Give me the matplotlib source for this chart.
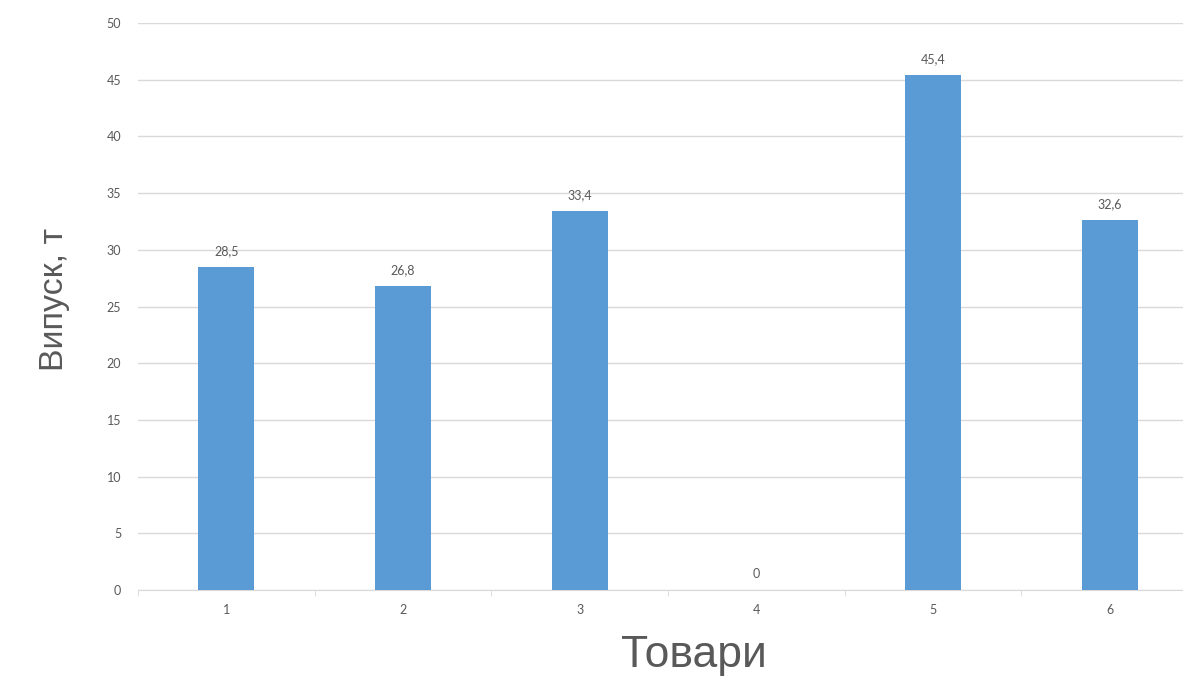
import matplotlib
matplotlib.use("Agg")
import matplotlib.pyplot as plt
import numpy as np

categories = ["1", "2", "3", "4", "5", "6"]
values = [28.5, 26.8, 33.4, 0, 45.4, 32.6]
value_labels = ["28,5", "26,8", "33,4", "0", "45,4", "32,6"]
y_ticks = [0, 5, 10, 15, 20, 25, 30, 35, 40, 45, 50]

bar_color = "#5B9BD5"
text_gray = "#595959"
grid_gray = "#D9D9D9"

fig = plt.figure(figsize=(11.83, 6.77), dpi=100)
ax = fig.add_axes([138 / 1183, 87 / 677, 1060 / 1183, 567 / 677])

x = np.arange(1, len(categories) + 1)
ax.bar(x, values, width=0.317, color=bar_color, zorder=3)

for xi, v, lab in zip(x, values, value_labels):
    ax.annotate(lab, (xi, v), xytext=(0, 7), textcoords="offset points",
                ha="center", va="bottom", fontsize=9, color=text_gray,
                family="Lato", zorder=4)

ax.set_xlim(0.5, len(categories) + 0.5)
ax.set_ylim(0, 50)
ax.set_yticks(y_ticks)
ax.set_yticklabels([str(t) for t in y_ticks])
ax.set_xticks(x)
ax.set_xticklabels(categories)
ax.set_xticks(np.arange(0.5, len(categories) + 1), minor=True)
ax.tick_params(axis="x", which="major", length=0, pad=10, labelsize=9, labelcolor=text_gray)
ax.tick_params(axis="x", which="minor", length=4, color=grid_gray, direction="out")
ax.tick_params(axis="y", length=0, pad=12, labelsize=9, labelcolor=text_gray)
for lab in ax.get_xticklabels() + ax.get_yticklabels():
    lab.set_family("Lato")

ax.grid(axis="y", color=grid_gray, linewidth=1, zorder=0)
for side in ["top", "right", "left"]:
    ax.spines[side].set_visible(False)
ax.spines["bottom"].set_color(grid_gray)
ax.spines["bottom"].set_zorder(2)

fig.text(55 / 1183, 1 - 299 / 677, "Випуск, т", rotation=90, ha="center", va="center",
         fontsize=24.5, color=text_gray, family="Liberation Sans")
fig.text(694 / 1183, 1 - 655 / 677, "Товари", ha="center", va="center",
         fontsize=32, color=text_gray, family="Liberation Sans")

fig.savefig("out.png", dpi=100)
